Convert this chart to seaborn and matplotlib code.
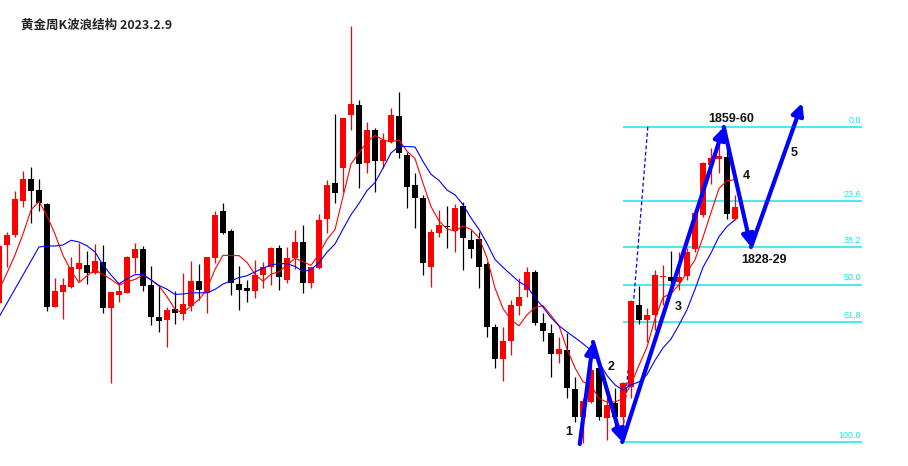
import numpy as np
import pandas as pd
import seaborn as sns
import matplotlib.pyplot as plt

# weekly gold candles, values in chart units
opens = [163, 221, 231, 265, 287, 276, 262, 159, 174, 179, 197, 201, 193, 204, 158, 171,
         173, 208, 217, 181, 149, 146, 157, 152, 160, 185, 173, 208, 255, 235, 182, 178,
         175, 191, 199, 218, 186, 208, 224, 183, 198, 247, 283, 298, 351, 361, 303, 336,
         305, 324, 350, 311, 281, 268, 199, 233, 240, 235, 260, 226, 227, 202, 139, 107,
         125, 160, 176, 194, 143, 133, 112, 116, 77, 49, 64, 98, 48, 63, 49, 79,
         161, 146, 151, 189, 189, 184, 190, 217, 251, 301, 307, 309, 247]
highs = [222, 234, 275, 295, 299, 287, 263, 188, 188, 209, 223, 215, 222, 221, 174, 183,
         210, 223, 220, 200, 180, 159, 175, 193, 205, 202, 209, 255, 263, 237, 200, 186,
         206, 204, 219, 221, 219, 236, 241, 199, 252, 286, 352, 348, 440, 366, 344, 338,
         333, 358, 374, 314, 293, 271, 237, 256, 260, 262, 264, 236, 234, 204, 142, 139,
         166, 188, 199, 196, 153, 142, 129, 133, 89, 68, 101, 103, 69, 78, 84, 166,
         180, 158, 196, 201, 215, 214, 218, 256, 304, 318, 331, 319, 271]
lows = [161, 199, 229, 259, 243, 255, 155, 159, 147, 178, 185, 182, 192, 153, 83, 164,
        173, 193, 175, 141, 134, 119, 142, 146, 155, 166, 153, 203, 232, 171, 156, 164,
        168, 178, 181, 176, 183, 197, 173, 178, 197, 233, 263, 274, 336, 278, 293, 274,
        298, 323, 308, 258, 238, 191, 179, 229, 218, 214, 196, 208, 178, 129, 98, 85,
        111, 151, 169, 141, 125, 89, 103, 68, 44, 23, 63, 46, 26, 36, 29, 68,
        142, 124, 136, 161, 173, 176, 186, 214, 249, 282, 293, 247, 246]
closes = [220, 231, 267, 287, 275, 263, 159, 175, 181, 199, 203, 193, 205, 158, 174, 175,
          209, 217, 180, 149, 145, 156, 153, 162, 185, 176, 209, 251, 233, 183, 176, 175,
          191, 199, 218, 189, 208, 224, 183, 199, 246, 281, 273, 348, 362, 302, 336, 305,
          326, 351, 313, 279, 268, 203, 234, 241, 239, 258, 228, 217, 199, 139, 107, 125,
          161, 169, 194, 143, 135, 112, 117, 78, 49, 65, 96, 49, 61, 49, 83, 165,
          146, 151, 191, 190, 185, 189, 214, 253, 303, 308, 310, 252, 259]

# moving averages at the left edge (earlier weeks are off the chart)
ma5_start = [176, 193, 211, 232]
ma10_start = [149, 163, 177, 191, 205, 219, 220, 220, 221]

# fibonacci retracement
fib_levels = [0.0, 23.6, 38.2, 50.0, 61.8, 100.0]
fib_high = 339
fib_low = 24
fib_x = [78.0, 107.9]
fib_line_x = [77.9, 81.1]
fib_line_y = [fib_low, fib_high]

# elliott wave sketch
wave_x = [72.6, 74.25, 77.9, 90.6, 94.0, 100.4]
wave_y = [22, 124, 24, 339, 219, 363]
labels = ["1", "2", "3", "4", "5", "1859-60", "1828-29"]
label_x = [71.25, 76.5, 84.9, 93.4, 99.4, 91.5, 95.6]
label_y = [34, 99, 159, 290, 313, 347, 206]

df = pd.DataFrame({"open": opens, "high": highs, "low": lows, "close": closes})
df["idx"] = np.arange(len(df))
ma5 = df["close"].rolling(5).mean()
ma5.iloc[:len(ma5_start)] = ma5_start
ma10 = df["close"].rolling(10).mean()
ma10.iloc[:len(ma10_start)] = ma10_start
df["ma5"] = ma5
df["ma10"] = ma10

sns.set_style("white")
plt.rcParams["font.family"] = ["Liberation Sans", "DejaVu Sans"]

fig = plt.figure(figsize=(9.08, 4.66), dpi=100)
ax = fig.add_axes([0, 0, 1, 1])

up = df["close"] >= df["open"]
cols = np.where(up, "#ff0000", "#000000")
ax.vlines(df["idx"], df["low"], df["high"], colors=cols, linewidth=0.9, zorder=2)
body_h = np.maximum((df["close"] - df["open"]).abs(), 0.9)
ax.bar(df["idx"], body_h, bottom=np.minimum(df["open"], df["close"]),
       width=0.7, color=cols, linewidth=0, zorder=3)

sns.lineplot(data=df, x="idx", y="ma5", color="#ff0000", linewidth=0.8, ax=ax, zorder=4)
sns.lineplot(data=df, x="idx", y="ma10", color="#0000ff", linewidth=0.8, ax=ax, zorder=4)

# fib levels
fib_col = "#19e3f5"
for lv in fib_levels:
    yv = fib_high - lv / 100 * (fib_high - fib_low)
    ax.hlines(yv, fib_x[0], fib_x[1], colors=fib_col, linewidth=1.1, zorder=1)
    ax.text(fib_x[1] - 0.15, yv + 2, f"{lv:.1f}", color=fib_col, fontsize=6.5,
            ha="right", va="bottom")
ax.plot(fib_line_x, fib_line_y, color="#0000ff", linewidth=0.9, linestyle=(0, (3, 2)), zorder=1)

# wave arrows
for i in range(len(wave_x) - 1):
    ax.annotate("", xy=(wave_x[i + 1], wave_y[i + 1]), xytext=(wave_x[i], wave_y[i]),
                arrowprops=dict(arrowstyle="-|>,head_length=0.5,head_width=0.25",
                                color="#0000ff", lw=3, shrinkA=0, shrinkB=0,
                                mutation_scale=14),
                zorder=5)

for t, x, y in zip(labels, label_x, label_y):
    ax.text(x, y, t, fontsize=9, fontweight="bold", color="#111111",
            ha="center", va="center", zorder=6)

ax.text(21 / 908, 1 - 25 / 466, "黄金周K波浪结构 2023.2.9", transform=ax.transAxes,
        fontsize=9, fontweight="bold", family=["Noto Sans CJK SC", "DejaVu Sans"],
        ha="left", va="center")

ax.set_xlim(0.125, 113.625)
ax.set_ylim(0, 466)
ax.axis("off")
fig.savefig("out.png", dpi=100)
